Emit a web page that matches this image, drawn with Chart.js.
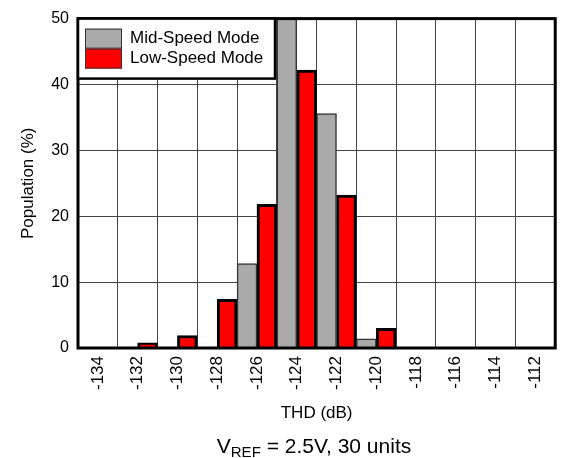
<!DOCTYPE html>
<html>
<head>
<meta charset="utf-8">
<script src="https://cdn.jsdelivr.net/npm/chart.js@4.4.1/dist/chart.umd.min.js"></script>
<style>
  html, body { margin: 0; padding: 0; background: #fff; }
  #wrap { width: 564px; height: 458px; position: relative; }
</style>
</head>
<body>
<div id="wrap"><canvas id="c" width="564" height="458"></canvas></div>
<script>
// THD histogram bins (dB), one per 2 dB label
const thdBins = ['-134', '-132', '-130', '-128', '-126', '-124', '-122', '-120', '-118', '-116', '-114', '-112'];
// Population share (%) per bin
const midSpeed = [0, 0, 0, 0, 12.8, 50, 35.6, 1.4, 0, 0, 0, 0];
const lowSpeed = [0, 0.8, 1.9, 7.4, 21.8, 42.2, 23.2, 3.0, 0, 0, 0, 0];
const yTicks = [0, 10, 20, 30, 40, 50];

const FONT = '"Liberation Sans", Arial, Helvetica, sans-serif';

// Frame around the plot, boxed legend and the caption with subscript
const decorations = {
  id: 'decorations',
  afterDraw(chart) {
    const ctx = chart.ctx;
    const a = chart.chartArea;
    ctx.save();
    ctx.strokeStyle = '#000';
    ctx.lineWidth = 3;
    ctx.strokeRect(a.left, a.top, a.right - a.left, a.bottom - a.top);

    // legend box
    const lx = a.left, ly = a.top, lw = 197, lh = 60;
    ctx.fillStyle = '#fff';
    ctx.fillRect(lx, ly, lw, lh);
    ctx.lineWidth = 2.5;
    ctx.strokeRect(lx, ly, lw, lh);
    ctx.font = '17px ' + FONT;
    ctx.textBaseline = 'middle';
    ctx.textAlign = 'left';
    chart.data.datasets.forEach((ds, i) => {
      const sy = ly + 10 + i * 20;
      ctx.fillStyle = ds.backgroundColor;
      ctx.fillRect(lx + 7, sy, 37, 20);
      ctx.lineWidth = 1;
      ctx.strokeStyle = '#333';
      ctx.strokeRect(lx + 7.5, sy + 0.5, 36, 19);
      ctx.fillStyle = '#000';
      ctx.fillText(ds.label, lx + 52, sy + 10);
    });

    // caption: V_REF = 2.5V, 30 units
    const big = '21px ' + FONT, small = '15px ' + FONT;
    const p1 = 'V', p2 = 'REF', p3 = ' = 2.5V, 30 units';
    ctx.font = big; const w1 = ctx.measureText(p1).width, w3 = ctx.measureText(p3).width;
    ctx.font = small; const w2 = ctx.measureText(p2).width;
    const total = w1 + w2 + w3;
    let x = 314 - total / 2;
    const base = 453;
    ctx.textBaseline = 'alphabetic';
    ctx.fillStyle = '#000';
    ctx.font = big; ctx.fillText(p1, x, base); x += w1;
    ctx.font = small; ctx.fillText(p2, x, base + 4); x += w2;
    ctx.font = big; ctx.fillText(p3, x, base);
    ctx.restore();
  }
};

new Chart(document.getElementById('c'), {
  type: 'bar',
  data: {
    labels: thdBins,
    datasets: [
      {
        label: 'Mid-Speed Mode',
        data: midSpeed,
        backgroundColor: '#aaaaaa',
        borderColor: '#333333',
        borderWidth: 1.5,
        borderSkipped: 'bottom',
        categoryPercentage: 1,
        barPercentage: 1
      },
      {
        label: 'Low-Speed Mode',
        data: lowSpeed,
        backgroundColor: '#ff0000',
        borderColor: '#000000',
        borderWidth: 3,
        borderSkipped: 'bottom',
        categoryPercentage: 1,
        barPercentage: 1
      }
    ]
  },
  options: {
    responsive: false,
    animation: false,
    layout: { padding: { left: 0, right: 6, top: 16, bottom: 0 } },
    plugins: { legend: { display: false }, tooltip: { enabled: false } },
    scales: {
      x: {
        offset: true,
        grid: { offset: true, color: '#444', lineWidth: 1, drawTicks: false },
        border: { display: false },
        ticks: {
          color: '#000',
          font: { family: FONT, size: 17 },
          minRotation: 90,
          maxRotation: 90,
          padding: 8
        },
        title: {
          display: true,
          text: 'THD (dB)',
          color: '#000',
          font: { family: FONT, size: 17 },
          padding: { top: 0, bottom: 34 }
        },
        afterFit(scale) { scale.height = 110; }
      },
      y: {
        min: 0,
        max: 50,
        afterBuildTicks(scale) { scale.ticks = yTicks.map(v => ({ value: v })); },
        grid: { color: '#444', lineWidth: 1, drawTicks: false },
        border: { display: false },
        ticks: {
          color: '#000',
          font: { family: FONT, size: 16 },
          padding: 9
        },
        title: {
          display: true,
          text: 'Population (%)',
          color: '#000',
          font: { family: FONT, size: 17 },
          padding: { top: 18, bottom: 0 }
        },
        afterFit(scale) { scale.width = 78; }
      }
    }
  },
  plugins: [decorations]
});
</script>
</body>
</html>
